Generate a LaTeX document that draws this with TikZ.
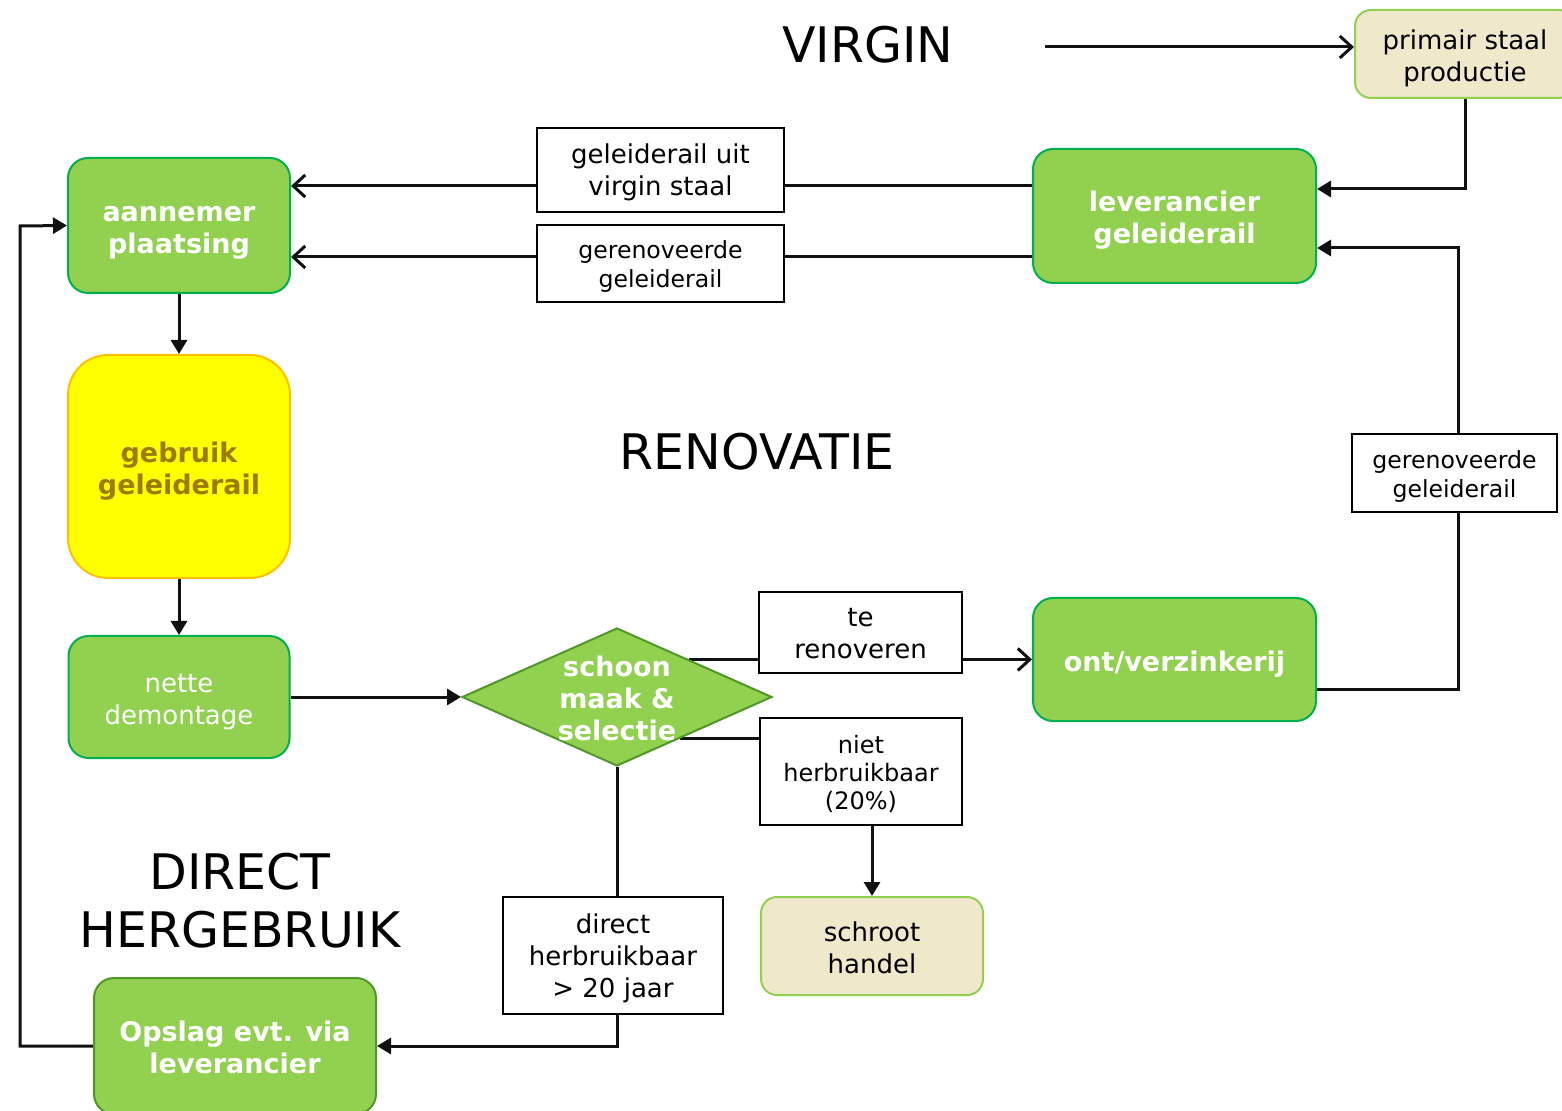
\documentclass[tikz,border=0pt]{standalone}
\usepackage{fontspec}
\setmainfont{DejaVu Sans}
\usetikzlibrary{arrows.meta,shapes.geometric,calc}
\pgfdeclarelayer{bg}
\pgfsetlayers{bg,main}
\definecolor{gfill}{RGB}{146,208,80}
\definecolor{gbord}{RGB}{0,176,80}
\definecolor{dbord}{RGB}{80,150,40}
\definecolor{beige}{RGB}{240,232,202}
\definecolor{yfill}{RGB}{255,255,0}
\definecolor{ybord}{RGB}{255,192,0}
\definecolor{ytext}{RGB}{156,124,0}
\definecolor{conn}{RGB}{17,17,17}
\newcommand{\Tb}{\rule{0pt}{15pt}}
\newcommand{\Ts}{\rule{0pt}{13pt}}
\newcommand{\botstrut}[1]{\rule[-#1]{0pt}{#1}}
\tikzset{
  base/.style={align=center,inner sep=0pt},
  bigstrut/.style={execute at end node={\botstrut{3.3pt}}},
  smallstrut/.style={execute at end node={\botstrut{3pt}}},
  fmain/.style={font=\fontsize{13}{16}\selectfont},
  fsmall/.style={font=\fontsize{11.8}{14.5}\selectfont},
  gbox/.style={base,bigstrut,rounded corners=10pt,fill=gfill,draw=gbord,line width=1pt,text=white,font=\fontsize{13.5}{16}\selectfont\bfseries},
  gboxn/.style={gbox,font=\fontsize{13}{16}\selectfont},
  pbox/.style={base,bigstrut,fmain,rounded corners=8pt,fill=beige,draw=gfill,line width=1pt,text=black},
  ybox/.style={base,bigstrut,rounded corners=20pt,fill=yfill,draw=ybord,line width=1pt,text=ytext,font=\fontsize{13.5}{16}\selectfont\bfseries},
  lbox/.style={base,smallstrut,draw=black,fill=white,line width=0.8pt},
  title/.style={base,font=\fontsize{24.5}{29}\selectfont},
  wire/.style={draw=conn,line width=1.5pt},
  openarr/.style={wire,-{Straight Barb[length=6pt,width=11pt,line width=1.5pt]}},
  fillarr/.style={wire,-{Triangle[length=7pt,width=8pt]}},
}
\begin{document}
\begin{tikzpicture}[x=0.5pt,y=-0.5pt]
\useasboundingbox (0,0) rectangle (1562,1111);

% titles
\node[title] (tvirgin) at (868,45) {VIRGIN};
\node[title] (treno) at (757,452) {RENOVATIE};
\node[title] (tdirect) at (240,901) {DIRECT\\HERGEBRUIK};

% main boxes
\node[pbox,minimum width=110pt,minimum height=44pt] (prim) at (1465,54) {\Tb primair staal\\productie};
\node[gbox,minimum width=141.5pt,minimum height=67pt] (lev) at (1174.5,216) {\Tb leverancier\\geleiderail};
\node[gbox,minimum width=111pt,minimum height=67.5pt] (aan) at (179,225.5) {\Tb aannemer\\plaatsing};
\node[ybox,minimum width=111pt,minimum height=111.5pt] (geb) at (179,466.5) {\Tb gebruik\\geleiderail};
\node[gboxn,minimum width=110.5pt,minimum height=61pt] (net) at (179,697) {\Tb nette\\demontage};
\node[gbox,minimum width=141.5pt,minimum height=61.5pt] (ont) at (1174.5,659.5) {\Tb ont/verzinkerij};
\node[pbox,minimum width=111pt,minimum height=49pt] (schroot) at (872,946) {\Tb schroot\\handel};
\node[gbox,draw=dbord,minimum width=141pt,minimum height=68pt] (ops) at (235,1046) {\Tb Opslag evt. via\\leverancier};
\node[diamond,fill=gfill,draw=dbord,line width=1pt,inner sep=0pt,minimum width=155pt,minimum height=69pt] (dia) at (617,697) {};
\node[base,bigstrut,text=white,font=\fontsize{13.5}{16}\selectfont\bfseries] (diat) at (617,697) {\Tb schoon\\maak \&\\selectie};

% label boxes
\node[lbox,fmain,minimum width=123.5pt,minimum height=42pt] (l1) at (660.5,170) {\Ts geleiderail uit\\virgin staal};
\node[lbox,fsmall,minimum width=123.5pt,minimum height=38.5pt] (l2) at (660.5,263.5) {\Ts gerenoveerde\\geleiderail};
\node[lbox,fsmall,minimum width=102.5pt,minimum height=39pt] (l4) at (1454.5,473) {\Ts gerenoveerde\\geleiderail};
\node[lbox,fmain,minimum width=101.5pt,minimum height=40.5pt] (l3) at (860.5,632.5) {\Ts te\\renoveren};
\node[lbox,font=\fontsize{12}{14}\selectfont,minimum width=101pt,minimum height=53.5pt] (l6) at (861,771.5) {\Ts niet\\herbruikbaar\\(20\%)};
\node[lbox,fmain,minimum width=110pt,minimum height=58.5pt] (l5) at (613,955.5) {\Ts direct\\herbruikbaar\\> 20 jaar};

\coordinate (vstart) at (1045,47);
\coordinate (lx) at (20,226);
\coordinate (rx) at (1458,0);
\coordinate (dup) at ($(dia.north)!0.464!(dia.east)$);
\coordinate (dlo) at ($(dia.east)!0.594!(dia.south)$);

\begin{pgfonlayer}{bg}
\draw[openarr] (vstart) -- (vstart -| prim.west);
\draw[fillarr] (prim.south) |- ([yshift=13.5pt]lev.east);
\draw[openarr] ([yshift=15pt]lev.west) -- ([yshift=15pt]lev.west -| aan.east);
\draw[openarr] ([yshift=-20.5pt]lev.west) -- ([yshift=-20.5pt]lev.west -| aan.east);
\draw[fillarr] (aan.south) -- (geb.north);
\draw[fillarr] (geb.south) -- (net.north);
\draw[fillarr] (net.east) -- (dia.west);
\draw[openarr] (dup) -- (dup -| ont.west);
\draw[wire] (dlo) -- (dlo -| l6.west);
\draw[fillarr] ([xshift=5.5pt]l6.south) -- ([xshift=5.5pt]l6.south |- schroot.north);
\draw[wire] ([yshift=-15pt]ont.east) -| (rx |- l4.south);
\draw[fillarr] (rx |- l4.north) |- ([yshift=-16pt]lev.east);
\draw[wire] (dia.south) -- (dia.south |- l5.north);
\draw[fillarr] (dia.south |- l5.south) |- (ops.east);
\draw[fillarr] (ops.west) -| (lx) -- (aan.west);
\end{pgfonlayer}
\end{tikzpicture}
\end{document}
